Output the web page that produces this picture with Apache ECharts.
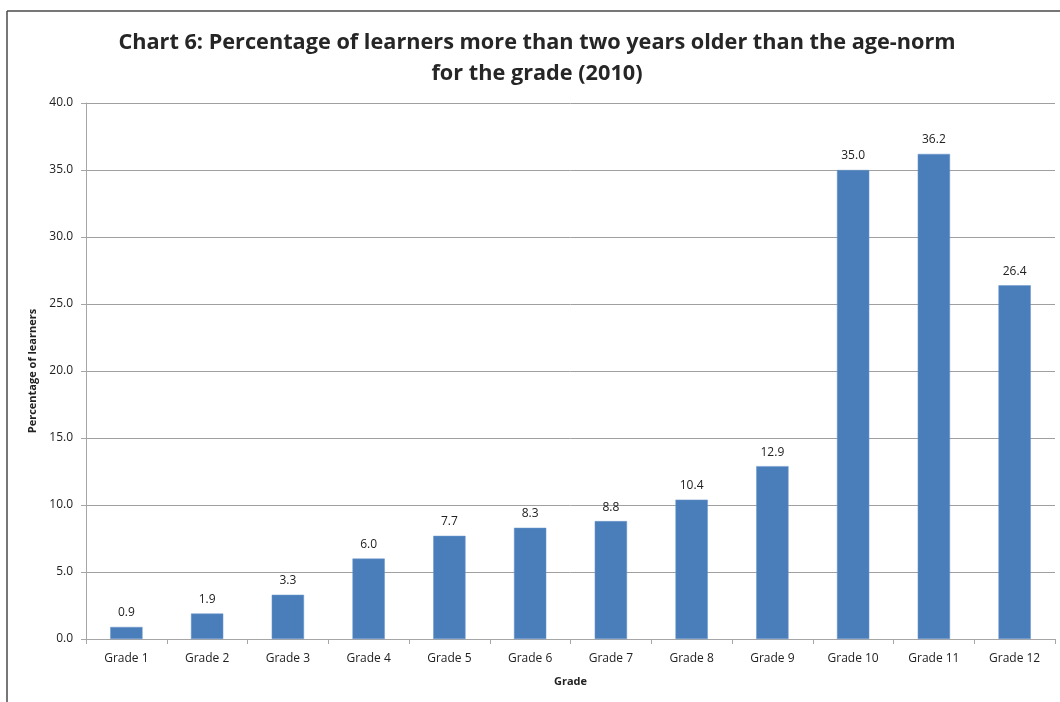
<!DOCTYPE html>
<html>
<head>
<meta charset="utf-8">
<script src="https://cdn.jsdelivr.net/npm/echarts@6/dist/echarts.min.js"></script>
<style>
  html, body { margin: 0; padding: 0; background: #fff; }
  #chart { width: 1060px; height: 702px; }
</style>
</head>
<body>
<div id="chart"></div>
<script>
// Learners more than two years older than the age-norm, by grade (2010)
const grades = ['Grade 1', 'Grade 2', 'Grade 3', 'Grade 4', 'Grade 5', 'Grade 6',
                'Grade 7', 'Grade 8', 'Grade 9', 'Grade 10', 'Grade 11', 'Grade 12'];
const percentOverAge = [0.9, 1.9, 3.3, 6.0, 7.7, 8.3, 8.8, 10.4, 12.9, 35.0, 36.2, 26.4];
const yTicks = { min: 0, max: 40, interval: 5 };

const FONT = '"Open Sans", "Noto Sans", sans-serif';
const chart = echarts.init(document.getElementById('chart'), null, { renderer: 'canvas' });

chart.setOption({
  animation: false,
  backgroundColor: '#ffffff',
  graphic: [
    // outer chart frame (top and left edges)
    { type: 'line', shape: { x1: 7, y1: 11, x2: 1060, y2: 11 },
      style: { stroke: '#4a4a4a', lineWidth: 1.5 } },
    { type: 'line', shape: { x1: 7, y1: 11, x2: 7, y2: 702 },
      style: { stroke: '#4a4a4a', lineWidth: 1.5 } }
  ],
  title: {
    text: 'Chart 6: Percentage of learners more than two years older than the age-norm\nfor the grade (2010)',
    left: 532,
    top: 22,
    textAlign: 'center',
    textStyle: {
      fontFamily: FONT, fontWeight: 'bold', fontSize: 21.7, color: '#262626', lineHeight: 31
    }
  },
  grid: { left: 86, right: 5, top: 103, bottom: 63, containLabel: false },
  xAxis: {
    type: 'category',
    data: grades,
    boundaryGap: true,
    name: 'Grade',
    nameLocation: 'middle',
    nameGap: 37,
    nameTextStyle: { fontFamily: FONT, fontWeight: 'bold', fontSize: 11, color: '#222' },
    axisLine: { show: true, lineStyle: { color: '#a6a6a6', width: 1 } },
    axisTick: { show: true, alignWithLabel: false, length: 5, lineStyle: { color: '#a6a6a6' } },
    axisLabel: { fontFamily: FONT, fontSize: 12, color: '#222', margin: 14, interval: 0 }
  },
  yAxis: {
    type: 'value',
    min: yTicks.min,
    max: yTicks.max,
    interval: yTicks.interval,
    name: 'Percentage of learners',
    nameLocation: 'middle',
    nameGap: 46,
    nameRotate: 90,
    nameTextStyle: { fontFamily: FONT, fontWeight: 'bold', fontSize: 11, color: '#222' },
    axisLine: { show: true, lineStyle: { color: '#a6a6a6', width: 1 } },
    axisTick: { show: true, length: 5, lineStyle: { color: '#a6a6a6' } },
    axisLabel: {
      fontFamily: FONT, fontSize: 12, color: '#222', margin: 13,
      formatter: v => v.toFixed(1)
    },
    splitLine: { show: true, lineStyle: { color: '#a0a0a0', width: 1 } }
  },
  series: [{
    type: 'bar',
    data: percentOverAge,
    barWidth: '40%',
    itemStyle: { color: '#4a7ebb', borderColor: '#6b97cc', borderWidth: 0.5 },
    label: {
      show: true,
      position: 'top',
      distance: 8,
      fontFamily: FONT,
      fontSize: 12,
      color: '#222',
      formatter: p => p.value.toFixed(1)
    }
  }]
});
</script>
</body>
</html>
